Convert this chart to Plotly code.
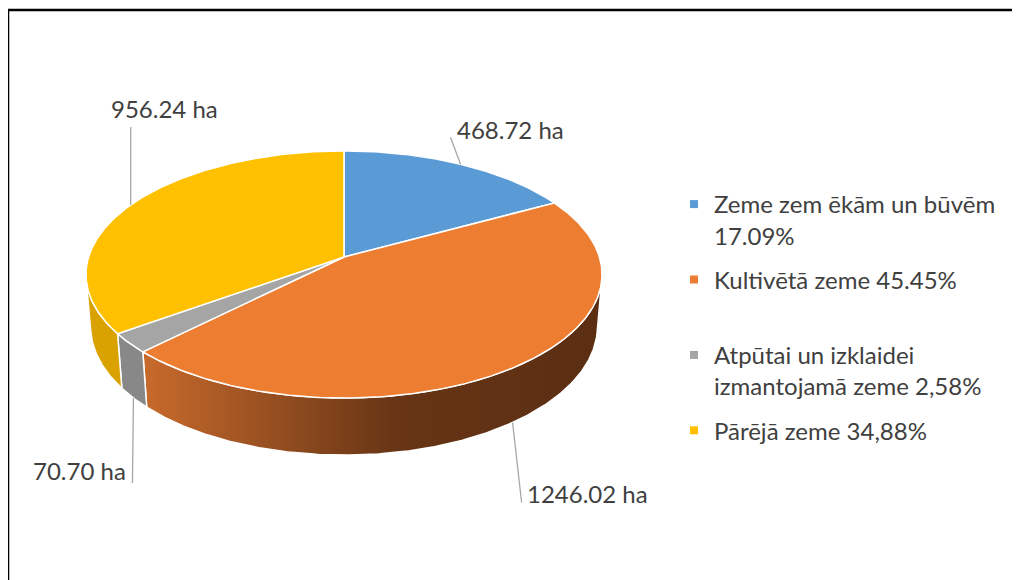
import numpy as np
import plotly.graph_objects as go

# ---------------- data ----------------
categories = ["Zeme zem ēkām un būvēm", "Kultivētā zeme",
              "Atpūtai un izklaidei izmantojamā zeme", "Pārējā zeme"]
areas_ha = [468.72, 1246.02, 70.70, 956.24]
legend_labels = ["Zeme zem ēkām un būvēm<br>17.09%",
                 "Kultivētā zeme 45.45%<br>&nbsp;",
                 "Atpūtai un izklaidei<br>izmantojamā zeme 2,58%",
                 "Pārējā zeme 34,88%"]

# ---------------- styles ----------------
top_colors = ["#5B9BD5", "#ED7D31", "#A5A5A5", "#FFC000"]
side_colors = ["#3F78AE", "#C0622A", "#888888", "#D9A200"]
orange_side_scale = [[0, "#C86A2C"], [0.55, "#673515"], [1, "#5B2E12"]]
label_color = "#404040"
FONT = "Lato"
FS = 24

# page offset (browser body margin) so axis units == screen pixels
OFF = 8

# pseudo-3D projection (layout geometry, screen pixels)
CX, CY = 344.0, 257.0      # pie centre
A = 255.4                  # scale
K = 0.1416                 # perspective strength
PHI = np.radians(28.3)     # elevation
RHO = 0.2335               # thickness / radius


def proj(theta_deg, bottom=False):
    t = np.radians(np.asarray(theta_deg, dtype=float))
    X, Z = np.sin(t), np.cos(t)
    Y = -RHO if bottom else 0.0
    zp = 1 + K * Z - K * np.tan(PHI) * Y
    x = CX + A * X / zp
    y = CY - A * (Z * np.sin(PHI) + Y * np.cos(PHI)) / zp
    return x, y


def arc(t1, t2, bottom=False):
    n = max(3, int(abs(t2 - t1) * 2))
    return proj(np.linspace(t1, t2, n), bottom)


vals = np.array(areas_ha)
bounds = np.concatenate([[0], np.cumsum(vals) / vals.sum() * 360.0])
vis_lo = np.degrees(np.arccos(-K / np.cos(PHI) ** 2))
vis_hi = 360 - vis_lo

fig = go.Figure()

# side faces
for i in range(len(vals)):
    t1, t2 = max(bounds[i], vis_lo), min(bounds[i + 1], vis_hi)
    if t2 <= t1:
        continue
    xt, yt = arc(t1, t2)
    xb, yb = arc(t2, t1, bottom=True)
    xs = np.concatenate([xt, xb, xt[:1]])
    ys = np.concatenate([yt, yb, yt[:1]])
    kw = dict(fillcolor=side_colors[i])
    if i == 1:
        kw = dict(fillgradient=dict(type="horizontal", colorscale=orange_side_scale))
    fig.add_trace(go.Scatter(x=xs, y=ys, mode="lines", fill="toself",
                             line=dict(color="white", width=1.5),
                             hoverinfo="skip", showlegend=False, **kw))

# top faces
for i in range(len(vals)):
    xt, yt = arc(bounds[i], bounds[i + 1])
    xs = np.concatenate([[CX], xt, [CX]])
    ys = np.concatenate([[CY], yt, [CY]])
    fig.add_trace(go.Scatter(x=xs, y=ys, mode="lines", fill="toself",
                             fillcolor=top_colors[i],
                             line=dict(color="white", width=1.5),
                             name=categories[i], hoverinfo="text",
                             text=f"{categories[i]}: {vals[i]:.2f} ha",
                             showlegend=False))

# data labels with leader lines (offsets are layout)
# (line dx, line dy, text dx, text dy, anchor, on side bottom)
label_layout = [(-10, -27, 4, -8, "left", False),
                (9, 80, 3, -9, "left", True),
                (-1, 85, -4, -13, "right", True),
                (0, -78, 34, -2, "center", False)]
for i in range(len(vals)):
    mid = (bounds[i] + bounds[i + 1]) / 2
    ldx, ldy, tdx, tdy, anchor, side = label_layout[i]
    ax, ay = proj(mid, bottom=side)
    ex, ey = ax + ldx, ay + ldy
    fig.add_trace(go.Scatter(x=[ax, ex], y=[ay, ey], mode="lines",
                             line=dict(color="#A6A6A6", width=1.3),
                             hoverinfo="skip", showlegend=False))
    ya = "bottom" if anchor == "center" else "middle"
    fig.add_annotation(x=ex + tdx, y=ey + tdy, text=f"{vals[i]:.2f} ha",
                       showarrow=False, xanchor=anchor, yanchor=ya,
                       font=dict(family=FONT, size=FS, color=label_color))

# legend entries
for i in range(len(vals)):
    fig.add_trace(go.Scatter(x=[None], y=[None], mode="markers",
                             marker=dict(symbol="square", size=8, color=top_colors[i]),
                             name=legend_labels[i], legendgroup=f"g{i}",
                             showlegend=True))

# outer frame
fig.add_shape(type="rect", x0=8, y0=10, x1=1060, y1=640, xref="x", yref="y",
              line=dict(color="black", width=2.5), fillcolor="rgba(0,0,0,0)")

fig.update_layout(
    width=1020, height=580,
    margin=dict(l=0, r=0, t=0, b=0),
    paper_bgcolor="white", plot_bgcolor="white",
    xaxis=dict(range=[OFF, 1020 + OFF], visible=False, fixedrange=True),
    yaxis=dict(range=[580 + OFF, OFF], visible=False, fixedrange=True),
    legend=dict(x=(674 - OFF) / 1020, y=1 - (182 - OFF) / 580,
                xanchor="left", yanchor="top",
                font=dict(family=FONT, size=FS, color=label_color),
                valign="top", itemwidth=30, traceorder="grouped",
                tracegroupgap=10, bgcolor="rgba(0,0,0,0)"),
    showlegend=True,
)

fig.write_html("out.html")
